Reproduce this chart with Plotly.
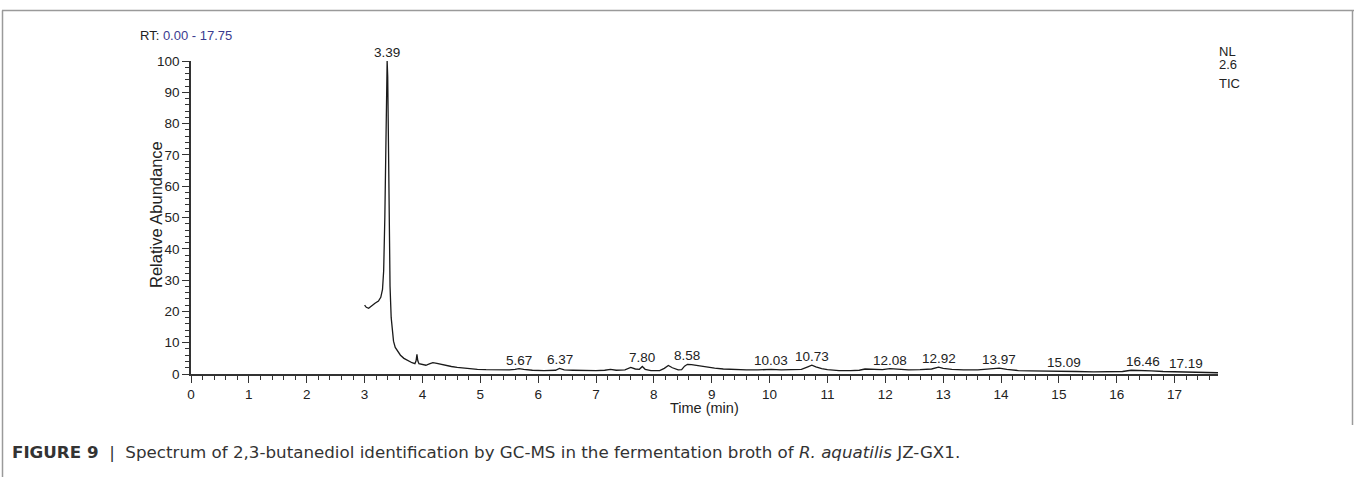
import plotly.graph_objects as go

# ---- data ----
time_min = [3.00, 3.03, 3.07, 3.12, 3.18, 3.24, 3.28, 3.31, 3.33, 3.35, 3.37, 3.385, 3.39,
            3.40, 3.41, 3.425, 3.44, 3.46, 3.48, 3.50, 3.53, 3.57, 3.62, 3.68, 3.75, 3.82,
            3.87, 3.89, 3.905, 3.92, 3.94, 4.00, 4.06, 4.12, 4.18, 4.25, 4.33, 4.42, 4.50,
            4.60, 4.70, 4.80, 4.95, 5.10, 5.30, 5.50, 5.60, 5.67, 5.75, 5.90, 6.10, 6.30,
            6.37, 6.45, 6.60, 6.80, 7.00, 7.15, 7.25, 7.35, 7.50, 7.60, 7.68, 7.75, 7.80,
            7.85, 7.95, 8.10, 8.18, 8.25, 8.32, 8.42, 8.48, 8.53, 8.58, 8.65, 8.75, 8.90,
            9.05, 9.20, 9.40, 9.60, 9.80, 10.03, 10.20, 10.40, 10.55, 10.65, 10.73, 10.80,
            10.90, 11.00, 11.20, 11.40, 11.55, 11.65, 11.80, 11.95, 12.08, 12.20, 12.40,
            12.60, 12.80, 12.92, 13.00, 13.15, 13.35, 13.60, 13.80, 13.97, 14.10, 14.30,
            14.50, 14.70, 14.90, 15.09, 15.30, 15.60, 15.90, 16.10, 16.25, 16.46, 16.60,
            16.80, 17.00, 17.19, 17.40, 17.60, 17.75]
abundance = [22.0, 21.3, 21.0, 21.8, 22.6, 23.3, 24.5, 27.0, 33.0, 50.0, 80.0, 99.0, 100.0,
             95.0, 75.0, 45.0, 28.0, 18.0, 13.0, 10.5, 8.5, 7.2, 6.0, 5.0, 4.2, 3.6,
             3.3, 4.2, 6.3, 4.2, 3.3, 3.0, 2.8, 3.2, 3.6, 3.4, 3.0, 2.8, 2.4,
             2.1, 1.9, 1.7, 1.5, 1.4, 1.3, 1.3, 1.5, 1.7, 1.5, 1.2, 1.1, 1.2,
             1.8, 1.3, 1.2, 1.1, 1.1, 1.2, 1.5, 1.2, 1.3, 2.1, 1.6, 1.5, 2.4,
             1.5, 1.1, 1.1, 1.8, 2.7, 2.0, 1.3, 1.4, 2.5, 3.1, 3.0, 2.7, 2.3,
             1.9, 1.6, 1.4, 1.3, 1.3, 1.5, 1.3, 1.3, 1.5, 2.2, 2.8, 2.3,
             1.7, 1.4, 1.1, 1.1, 1.2, 1.6, 1.5, 1.4, 1.7, 1.5, 1.3,
             1.4, 1.6, 2.2, 1.8, 1.5, 1.3, 1.3, 1.5, 1.9, 1.5, 1.1,
             1.0, 0.9, 0.8, 0.9, 0.8, 0.7, 0.7, 0.8, 1.2, 1.2, 1.0,
             0.8, 0.7, 0.6, 0.5, 0.5, 0.4]

peak_rt = [3.39, 5.67, 6.37, 7.80, 8.58, 10.03, 10.73, 12.08, 12.92, 13.97, 15.09, 16.46, 17.19]
peak_abund = [100.0, 1.7, 1.8, 2.4, 3.1, 1.5, 2.8, 1.7, 2.2, 1.9, 0.9, 1.2, 0.6]
peak_labels = ["3.39", "5.67", "6.37", "7.80", "8.58", "10.03", "10.73", "12.08", "12.92",
               "13.97", "15.09", "16.46", "17.19"]

x_ticks = list(range(0, 18))
y_ticks = list(range(0, 101, 10))

W, H = 1355, 477
ML, MR, MT, MB = 191, 137, 61, 103
PW, PH = W - ML - MR, H - MT - MB


def fx(px):
    return (px - ML) / PW


def fy(py):
    return (H - MB - py) / PH


FONT = "Liberation Sans, Arial, Helvetica, sans-serif"
CAPFONT = "DejaVu Sans, Liberation Sans, sans-serif"
AX = "#333333"
TXT = "#222222"

fig = go.Figure()
fig.add_trace(go.Scatter(x=time_min, y=abundance, mode="lines",
                         line=dict(color="#1a1a1a", width=1.3), hoverinfo="x+y",
                         showlegend=False))

annotations = []
for rt, ab, lab in zip(peak_rt, peak_abund, peak_labels):
    annotations.append(dict(x=rt, y=ab, xref="x", yref="y", text=lab, showarrow=False,
                            xanchor="center", yanchor="bottom", yshift=-1,
                            font=dict(family=FONT, size=13.5, color=TXT)))

annotations += [
    dict(xref="paper", yref="paper", x=fx(138), y=fy(36), xanchor="left", yanchor="middle",
         text='RT: <span style="color:#3b3b8f">0.00 - 17.75</span>', showarrow=False,
         font=dict(family=FONT, size=13, color=TXT)),
    dict(xref="paper", yref="paper", x=fx(1217), y=fy(51), xanchor="left", yanchor="middle",
         text="NL", showarrow=False, font=dict(family=FONT, size=13, color=TXT)),
    dict(xref="paper", yref="paper", x=fx(1217), y=fy(64), xanchor="left", yanchor="middle",
         text="2.6", showarrow=False, font=dict(family=FONT, size=13, color=TXT)),
    dict(xref="paper", yref="paper", x=fx(1217), y=fy(83), xanchor="left", yanchor="middle",
         text="TIC", showarrow=False, font=dict(family=FONT, size=13, color=TXT)),
    dict(xref="paper", yref="paper", x=fx(156), y=fy(215), xanchor="center", yanchor="middle",
         text="Relative Abundance", textangle=-90, showarrow=False,
         font=dict(family=FONT, size=16.5, color=TXT)),
    dict(xref="paper", yref="paper", x=fx(704), y=fy(408), xanchor="center", yanchor="middle",
         text="Time (min)", showarrow=False, font=dict(family=FONT, size=14.5, color=TXT)),
    dict(xref="paper", yref="paper", x=fx(10), y=fy(452), xanchor="left", yanchor="middle",
         text="<b>FIGURE 9</b>  |  Spectrum of 2,3-butanediol identification by GC-MS in the "
              "fermentation broth of <i>R. aquatilis</i> JZ-GX1.",
         showarrow=False,
         font=dict(family=CAPFONT, size=16.7, color="#333")),
]

frame = dict(type="line", xref="paper", yref="paper", line=dict(color="#9a9a9a", width=1.5))
shapes = [
    dict(frame, x0=fx(2), x1=fx(1354), y0=fy(10.5), y1=fy(10.5)),
    dict(frame, x0=fx(2.5), x1=fx(2.5), y0=fy(10.5), y1=fy(477)),
    dict(frame, x0=fx(1352.5), x1=fx(1352.5), y0=fy(10.5), y1=fy(425)),
]

fig.update_layout(
    width=W, height=H, margin=dict(l=ML, r=MR, t=MT, b=MB, pad=0),
    paper_bgcolor="white", plot_bgcolor="white",
    font=dict(family=FONT, size=13, color=TXT),
    annotations=annotations, shapes=shapes,
    xaxis=dict(range=[0, 17.75], tickvals=x_ticks, ticktext=[str(v) for v in x_ticks],
               showgrid=False, zeroline=False, showline=True, linecolor=AX, linewidth=1.5,
               ticks="outside", ticklen=7, tickwidth=1.3, tickcolor=AX,
               minor=dict(dtick=0.2, tick0=0, ticks="outside", ticklen=4, tickwidth=1.2,
                          tickcolor=AX, showgrid=False),
               tickfont=dict(family=FONT, size=13.5, color=TXT)),
    yaxis=dict(range=[0, 100], tickvals=y_ticks, ticktext=[str(v) for v in y_ticks],
               showgrid=False, zeroline=False, showline=True, linecolor=AX, linewidth=1.5,
               ticks="outside", ticklen=7, tickwidth=1.3, tickcolor=AX,
               minor=dict(dtick=2, tick0=0, ticks="outside", ticklen=4, tickwidth=1.2,
                          tickcolor=AX, showgrid=False),
               tickfont=dict(family=FONT, size=13.5, color=TXT)),
)

fig.write_html("out.html")
